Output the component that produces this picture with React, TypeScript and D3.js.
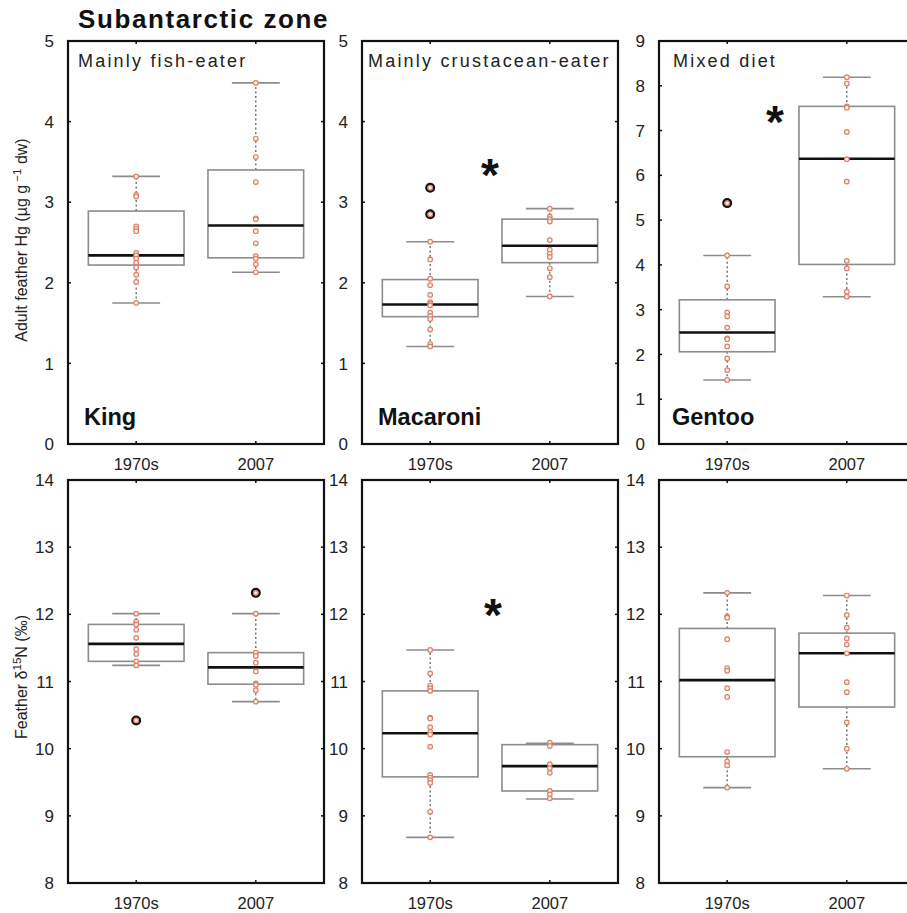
import React from "react";
import * as d3 from "d3";

// ---------- DATA ----------
const categories = ["1970s", "2007"];
const hgTicks5 = [0, 1, 2, 3, 4, 5];
const hgTicks9 = [0, 1, 2, 3, 4, 5, 6, 7, 8, 9];
const n15Ticks = [8, 9, 10, 11, 12, 13, 14];

// Box stats: [lower whisker, q1, median, q3, upper whisker]
const kingHg1970 = [3.32, 3.09, 3.07, 2.7, 2.67, 2.64, 2.37, 2.34, 2.3, 2.25, 2.19, 2.1, 2.01, 1.75];
const kingHg2007 = [4.48, 3.79, 3.56, 3.25, 2.8, 2.79, 2.64, 2.49, 2.33, 2.3, 2.23, 2.13];
const kingHgBox1970 = [1.75, 2.22, 2.34, 2.89, 3.32];
const kingHgBox2007 = [2.13, 2.31, 2.71, 3.4, 4.48];
const kingHgOut1970: number[] = [];
const kingHgOut2007: number[] = [];

const macHg1970 = [3.18, 2.85, 2.51, 2.29, 2.05, 1.97, 1.85, 1.76, 1.74, 1.72, 1.63, 1.59, 1.55, 1.42, 1.24, 1.21];
const macHg2007 = [2.92, 2.82, 2.79, 2.76, 2.53, 2.41, 2.36, 2.32, 2.18, 2.07, 1.83];
const macHgBox1970 = [1.21, 1.58, 1.73, 2.04, 2.51];
const macHgBox2007 = [1.83, 2.25, 2.46, 2.79, 2.92];
const macHgOut1970 = [3.18, 2.85];
const macHgOut2007: number[] = [];

const genHg1970 = [5.38, 4.21, 3.52, 2.94, 2.85, 2.6, 2.36, 2.34, 2.18, 1.91, 1.65, 1.43];
const genHg2007 = [8.19, 8.05, 7.54, 7.51, 6.97, 6.36, 5.86, 4.09, 3.92, 3.4, 3.29];
const genHgBox1970 = [1.43, 2.06, 2.49, 3.22, 4.21];
const genHgBox2007 = [3.29, 4.01, 6.37, 7.54, 8.19];
const genHgOut1970 = [5.38];
const genHgOut2007: number[] = [];

const kingN1970 = [12.01, 11.89, 11.85, 11.77, 11.65, 11.48, 11.41, 11.3, 11.24, 10.42];
const kingN2007 = [12.32, 12.01, 11.43, 11.38, 11.28, 11.15, 10.97, 10.95, 10.87, 10.7];
const kingNBox1970 = [11.24, 11.3, 11.56, 11.85, 12.01];
const kingNBox2007 = [10.7, 10.96, 11.21, 11.43, 12.01];
const kingNOut1970 = [10.42];
const kingNOut2007 = [12.32];

const macN1970 = [11.47, 11.12, 10.94, 10.9, 10.86, 10.46, 10.45, 10.32, 10.25, 10.21, 10.03, 9.61, 9.57, 9.53, 9.49, 9.06, 8.68];
const macN2007 = [10.09, 10.04, 9.77, 9.71, 9.64, 9.37, 9.32, 9.26];
const macNBox1970 = [8.68, 9.58, 10.23, 10.86, 11.47];
const macNBox2007 = [9.25, 9.37, 9.74, 10.06, 10.08];
const macNOut1970: number[] = [];
const macNOut2007: number[] = [];

const genN1970 = [12.32, 11.97, 11.95, 11.63, 11.2, 11.16, 10.9, 10.77, 9.95, 9.81, 9.75, 9.42];
const genN2007 = [12.28, 11.99, 11.8, 11.64, 11.55, 11.42, 10.99, 10.84, 10.39, 10.0, 9.7];
const genNBox1970 = [9.42, 9.88, 11.02, 11.79, 12.32];
const genNBox2007 = [9.7, 10.62, 11.42, 11.72, 12.28];
const genNOut1970: number[] = [];
const genNOut2007: number[] = [];

// ---------- LAYOUT ----------
const FONT = "'Liberation Sans', Arial, Helvetica, sans-serif";
const PW = 256;

type Panel = {
  left: number;
  top: number;
  bottom: number;
  domain: [number, number];
  ticks: number[];
  points: number[][];
  boxes: number[][];
  outliers: number[][];
  diet?: string;
  dietX?: number;
  species?: string;
  speciesX?: number;
  star?: [number, number];
};

const panels: Panel[] = [
  { left: 68, top: 41, bottom: 444, domain: [0, 5], ticks: hgTicks5,
    points: [kingHg1970, kingHg2007], boxes: [kingHgBox1970, kingHgBox2007], outliers: [kingHgOut1970, kingHgOut2007],
    diet: "Mainly fish-eater", dietX: 78, species: "King", speciesX: 84 },
  { left: 362, top: 41, bottom: 444, domain: [0, 5], ticks: hgTicks5,
    points: [macHg1970, macHg2007], boxes: [macHgBox1970, macHgBox2007], outliers: [macHgOut1970, macHgOut2007],
    diet: "Mainly crustacean-eater", dietX: 368, species: "Macaroni", speciesX: 378, star: [1.5, 3.46] },
  { left: 659, top: 41, bottom: 444, domain: [0, 9], ticks: hgTicks9,
    points: [genHg1970, genHg2007], boxes: [genHgBox1970, genHgBox2007], outliers: [genHgOut1970, genHgOut2007],
    diet: "Mixed diet", dietX: 673, species: "Gentoo", speciesX: 672, star: [1.4, 7.41] },
  { left: 68, top: 480, bottom: 883, domain: [8, 14], ticks: n15Ticks,
    points: [kingN1970, kingN2007], boxes: [kingNBox1970, kingNBox2007], outliers: [kingNOut1970, kingNOut2007] },
  { left: 362, top: 480, bottom: 883, domain: [8, 14], ticks: n15Ticks,
    points: [macN1970, macN2007], boxes: [macNBox1970, macNBox2007], outliers: [macNOut1970, macNOut2007],
    star: [1.525, 12.14] },
  { left: 659, top: 480, bottom: 883, domain: [8, 14], ticks: n15Ticks,
    points: [genN1970, genN2007], boxes: [genNBox1970, genNBox2007], outliers: [genNOut1970, genNOut2007] },
];

const BOX_GRAY = "#8c8c8c";
const PT_STROKE = "#dc7f72";
const PT_FILL = "#fff2d6";

function PanelView({ p }: { p: Panel }) {
  const x = d3.scaleLinear().domain([0.43, 2.57]).range([p.left, p.left + PW]);
  const y = d3.scaleLinear().domain(p.domain).range([p.bottom, p.top]);
  const right = p.left + PW;
  const bw = x(1.4) - x(1);
  const cw = x(1.2) - x(1);
  return (
    <g>
      {/* y tick labels */}
      {p.ticks.map((t) => (
        <text key={"yl" + t} x={p.left - 14} y={y(t)} dy="0.36em" textAnchor="end"
          fontSize={17} fontFamily={FONT} fill="#222">{t}</text>
      ))}
      {/* x tick labels */}
      {categories.map((c, i) => (
        <text key={"xl" + c} x={x(i + 1)} y={p.bottom + 26} textAnchor="middle"
          fontSize={16.5} fontFamily={FONT} fill="#222">{c}</text>
      ))}
      {/* boxes */}
      {p.boxes.map((b, i) => {
        const cx = x(i + 1);
        const [lo, q1, med, q3, hi] = b;
        return (
          <g key={"b" + i}>
            <line x1={cx} x2={cx} y1={y(q3)} y2={y(hi)} stroke="#555" strokeWidth={1.2} strokeDasharray="2,2.5" />
            <line x1={cx} x2={cx} y1={y(q1)} y2={y(lo)} stroke="#555" strokeWidth={1.2} strokeDasharray="2,2.5" />
            <line x1={cx - cw} x2={cx + cw} y1={y(hi)} y2={y(hi)} stroke={BOX_GRAY} strokeWidth={1.6} />
            <line x1={cx - cw} x2={cx + cw} y1={y(lo)} y2={y(lo)} stroke={BOX_GRAY} strokeWidth={1.6} />
            <rect x={cx - bw} y={y(q3)} width={2 * bw} height={y(q1) - y(q3)} fill="none" stroke={BOX_GRAY} strokeWidth={1.6} />
            <line x1={cx - bw} x2={cx + bw} y1={y(med)} y2={y(med)} stroke="#111" strokeWidth={2.6} />
          </g>
        );
      })}
      {/* outliers */}
      {p.outliers.map((arr, i) =>
        arr.map((v, j) => (
          <circle key={"o" + i + "-" + j} cx={x(i + 1)} cy={y(v)} r={3.8} fill="none" stroke="#111" strokeWidth={2.4} />
        ))
      )}
      {/* points */}
      {p.points.map((arr, i) =>
        arr.map((v, j) => (
          <circle key={"p" + i + "-" + j} cx={x(i + 1)} cy={y(v)} r={2.3} fill={PT_FILL} stroke={PT_STROKE} strokeWidth={1.2} />
        ))
      )}
      {/* frame */}
      <rect x={p.left} y={p.top} width={PW} height={p.bottom - p.top} fill="none" stroke="#111" strokeWidth={2.2} />
      {/* ticks */}
      {p.ticks.slice(1, -1).map((t) => (
        <g key={"t" + t}>
          <line x1={p.left} x2={p.left + 3} y1={y(t)} y2={y(t)} stroke="#111" strokeWidth={1.5} />
          <line x1={right} x2={right - 3} y1={y(t)} y2={y(t)} stroke="#111" strokeWidth={1.5} />
        </g>
      ))}
      {categories.map((c, i) => (
        <g key={"xt" + c}>
          <line x1={x(i + 1)} x2={x(i + 1)} y1={p.top} y2={p.top + 3} stroke="#111" strokeWidth={1.5} />
          <line x1={x(i + 1)} x2={x(i + 1)} y1={p.bottom} y2={p.bottom - 3} stroke="#111" strokeWidth={1.5} />
        </g>
      ))}
      {p.diet && (
        <text x={p.dietX} y={p.top + 26} fontSize={18} fontFamily={FONT} letterSpacing={2.2} fill="#222">{p.diet}</text>
      )}
      {p.species && (
        <text x={p.speciesX} y={p.bottom - 19} fontSize={23.5} fontWeight="bold" fontFamily={FONT} fill="#111">{p.species}</text>
      )}
      {p.star && (
        <text x={x(p.star[0])} y={y(p.star[1]) + 26} textAnchor="middle" fontSize={46} fontWeight="bold" fontFamily={FONT} fill="#111">*</text>
      )}
    </g>
  );
}

export default function App() {
  return (
    <svg width={907} height={913} style={{ position: "absolute", left: 0, top: 0, background: "#fff" }}>
      <rect x={0} y={0} width={907} height={913} fill="#fff" />
      <text x={78} y={28} fontSize={26} fontWeight="bold" fontFamily={FONT} letterSpacing={1.6} fill="#111">Subantarctic zone</text>
      {panels.map((p, i) => (
        <PanelView key={i} p={p} />
      ))}
      <text transform="translate(27,240) rotate(-90)" textAnchor="middle" fontSize={16} fontFamily={FONT} fill="#222">
        Adult feather Hg (µg g<tspan dy={-6} fontSize={11.5}> −1</tspan><tspan dy={6}> dw)</tspan>
      </text>
      <text transform="translate(27,677) rotate(-90)" textAnchor="middle" fontSize={16} fontFamily={FONT} fill="#222">
        Feather δ<tspan dy={-6} fontSize={11.5}>15</tspan><tspan dy={6}>N (‰)</tspan>
      </text>
    </svg>
  );
}
